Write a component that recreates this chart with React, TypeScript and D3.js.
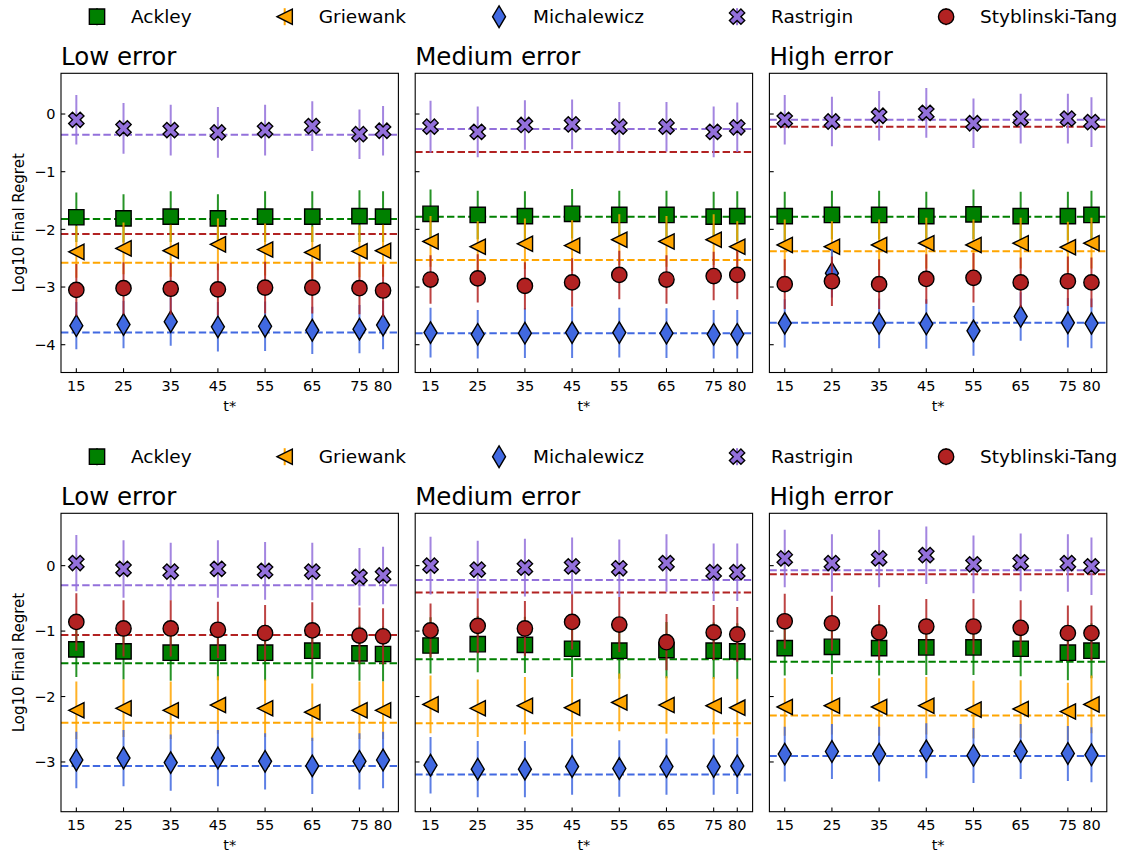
import React, { useEffect, useRef } from 'react';
import * as d3 from 'd3';

const W = 1132;
const H = 855;
const FONT = 'DejaVu Sans, Liberation Sans, sans-serif';

const T_STAR = [15, 25, 35, 45, 55, 65, 75, 80];
const FUNCS = ['Ackley', 'Griewank', 'Michalewicz', 'Rastrigin', 'Styblinski-Tang'];
const COLORS = ['#008000', '#FFA500', '#4169E1', '#9370DB', '#B22222'];
const MARKERS = ['square', 'triLeft', 'thinDiamond', 'xFilled', 'circle'];
const TITLES = ['Low error', 'Medium error', 'High error'];
const TOP_Y_TICKS = [0, -1, -2, -3, -4];
const BOTTOM_Y_TICKS = [0, -1, -2, -3];
const TOP_Y_DOMAIN = [-4.482, 0.706];
const BOTTOM_Y_DOMAIN = [-3.76, 0.8];

// ---- Top row: means per function (Ackley, Griewank, Michalewicz, Rastrigin, Styblinski-Tang)
const topLowMean = [
  [-1.79, -1.81, -1.78, -1.81, -1.78, -1.78, -1.77, -1.78],
  [-2.39, -2.33, -2.37, -2.26, -2.35, -2.40, -2.38, -2.37],
  [-3.67, -3.65, -3.60, -3.69, -3.68, -3.75, -3.73, -3.66],
  [-0.10, -0.25, -0.28, -0.32, -0.28, -0.21, -0.35, -0.29],
  [-3.05, -3.02, -3.03, -3.04, -3.01, -3.01, -3.02, -3.06],
];
const topLowErr = [
  [0.43, 0.42, 0.44, 0.42, 0.44, 0.44, 0.45, 0.44],
  [0.45, 0.45, 0.45, 0.45, 0.45, 0.45, 0.45, 0.45],
  [0.41, 0.41, 0.42, 0.43, 0.43, 0.41, 0.42, 0.42],
  [0.43, 0.44, 0.44, 0.44, 0.44, 0.43, 0.43, 0.43],
  [0.45, 0.45, 0.45, 0.45, 0.45, 0.45, 0.45, 0.45],
];
const topLowBase = [-1.82, -2.58, -3.79, -0.36, -2.08];

const topMedMean = [
  [-1.73, -1.75, -1.77, -1.73, -1.75, -1.75, -1.78, -1.77],
  [-2.21, -2.30, -2.25, -2.28, -2.18, -2.21, -2.18, -2.30],
  [-3.79, -3.82, -3.80, -3.79, -3.79, -3.80, -3.82, -3.82],
  [-0.22, -0.31, -0.19, -0.18, -0.22, -0.22, -0.31, -0.23],
  [-2.87, -2.85, -2.98, -2.92, -2.79, -2.87, -2.81, -2.79],
];
const topMedErr = [
  [0.42, 0.42, 0.43, 0.43, 0.42, 0.42, 0.43, 0.43],
  [0.44, 0.44, 0.44, 0.44, 0.44, 0.44, 0.44, 0.44],
  [0.43, 0.42, 0.43, 0.44, 0.43, 0.43, 0.42, 0.42],
  [0.45, 0.44, 0.43, 0.43, 0.43, 0.43, 0.44, 0.43],
  [0.42, 0.42, 0.41, 0.42, 0.42, 0.42, 0.42, 0.42],
];
const topMedBase = [-1.78, -2.53, -3.80, -0.26, -0.66];

const topHighMean = [
  [-1.77, -1.75, -1.75, -1.77, -1.74, -1.77, -1.77, -1.75],
  [-2.27, -2.30, -2.27, -2.24, -2.27, -2.24, -2.31, -2.24],
  [-3.63, -2.76, -3.63, -3.64, -3.76, -3.51, -3.62, -3.63],
  [-0.10, -0.13, -0.03, 0.02, -0.16, -0.08, -0.08, -0.14],
  [-2.95, -2.90, -2.95, -2.86, -2.84, -2.92, -2.90, -2.92],
];
const topHighErr = [
  [0.42, 0.42, 0.42, 0.42, 0.43, 0.42, 0.42, 0.42],
  [0.44, 0.44, 0.44, 0.44, 0.44, 0.44, 0.44, 0.44],
  [0.42, 0.42, 0.43, 0.43, 0.43, 0.42, 0.43, 0.43],
  [0.43, 0.43, 0.43, 0.43, 0.43, 0.43, 0.43, 0.43],
  [0.43, 0.43, 0.43, 0.43, 0.43, 0.43, 0.43, 0.43],
];
const topHighBase = [-1.78, -2.38, -3.62, -0.10, -0.22];

// ---- Bottom row
const botLowMean = [
  [-1.28, -1.31, -1.33, -1.33, -1.33, -1.30, -1.34, -1.35],
  [-2.21, -2.18, -2.21, -2.13, -2.18, -2.24, -2.21, -2.21],
  [-2.97, -2.94, -3.01, -2.94, -2.99, -3.06, -2.99, -2.97],
  [0.04, -0.05, -0.09, -0.05, -0.08, -0.09, -0.17, -0.15],
  [-0.86, -0.96, -0.96, -0.98, -1.03, -0.99, -1.07, -1.08],
];
const botLowErr = [
  [0.42, 0.43, 0.43, 0.42, 0.43, 0.43, 0.42, 0.42],
  [0.44, 0.44, 0.44, 0.44, 0.44, 0.44, 0.44, 0.44],
  [0.43, 0.43, 0.43, 0.43, 0.43, 0.43, 0.43, 0.43],
  [0.43, 0.44, 0.44, 0.44, 0.44, 0.44, 0.44, 0.44],
  [0.44, 0.43, 0.43, 0.43, 0.43, 0.43, 0.43, 0.43],
];
const botLowBase = [-1.49, -2.40, -3.06, -0.30, -1.06];

const botMedMean = [
  [-1.22, -1.20, -1.21, -1.27, -1.30, -1.29, -1.30, -1.31],
  [-2.12, -2.18, -2.14, -2.17, -2.09, -2.13, -2.14, -2.17],
  [-3.05, -3.11, -3.11, -3.07, -3.10, -3.07, -3.07, -3.06],
  [0.00, -0.06, -0.03, -0.01, -0.04, 0.04, -0.10, -0.10],
  [-0.99, -0.92, -0.96, -0.86, -0.90, -1.17, -1.02, -1.05],
];
const botMedErr = [
  [0.43, 0.43, 0.43, 0.43, 0.43, 0.43, 0.43, 0.43],
  [0.44, 0.44, 0.44, 0.44, 0.44, 0.44, 0.44, 0.44],
  [0.43, 0.43, 0.43, 0.43, 0.43, 0.43, 0.43, 0.43],
  [0.44, 0.44, 0.44, 0.44, 0.44, 0.44, 0.44, 0.44],
  [0.41, 0.42, 0.42, 0.42, 0.42, 0.43, 0.42, 0.42],
];
const botMedBase = [-1.43, -2.41, -3.19, -0.22, -0.41];

const botHighMean = [
  [-1.26, -1.24, -1.26, -1.25, -1.25, -1.27, -1.33, -1.30],
  [-2.16, -2.14, -2.16, -2.14, -2.20, -2.19, -2.23, -2.12],
  [-2.88, -2.84, -2.88, -2.83, -2.90, -2.84, -2.87, -2.89],
  [0.11, 0.04, 0.11, 0.16, 0.02, 0.05, 0.04, -0.01],
  [-0.85, -0.88, -1.02, -0.93, -0.93, -0.95, -1.03, -1.03],
];
const botHighErr = [
  [0.42, 0.42, 0.42, 0.42, 0.42, 0.42, 0.42, 0.42],
  [0.44, 0.44, 0.44, 0.44, 0.44, 0.44, 0.44, 0.44],
  [0.42, 0.42, 0.42, 0.42, 0.42, 0.42, 0.42, 0.42],
  [0.44, 0.44, 0.44, 0.44, 0.44, 0.44, 0.44, 0.44],
  [0.42, 0.42, 0.42, 0.42, 0.42, 0.42, 0.42, 0.42],
];
const botHighBase = [-1.47, -2.29, -2.91, -0.07, -0.13];

const ROWS = [
  {
    top: 73.3, bottom: 372.5, legendY: 16.7, titleY: 65,
    domain: TOP_Y_DOMAIN, ticks: TOP_Y_TICKS,
    panels: [
      { mean: topLowMean, err: topLowErr, base: topLowBase },
      { mean: topMedMean, err: topMedErr, base: topMedBase },
      { mean: topHighMean, err: topHighErr, base: topHighBase },
    ],
  },
  {
    top: 513.3, bottom: 811.7, legendY: 456.7, titleY: 504.8,
    domain: BOTTOM_Y_DOMAIN, ticks: BOTTOM_Y_TICKS,
    panels: [
      { mean: botLowMean, err: botLowErr, base: botLowBase },
      { mean: botMedMean, err: botMedErr, base: botMedBase },
      { mean: botHighMean, err: botHighErr, base: botHighBase },
    ],
  },
];

const PANEL_LEFTS = [61, 415.2, 769.4];
const PANEL_W = 337.4;
const MS = 15.3;

function markerPath(kind: string): string {
  const h = MS / 2;
  if (kind === 'square') return `M${-h},${-h}H${h}V${h}H${-h}Z`;
  if (kind === 'triLeft') return `M${-h},0L${h},${-h}L${h},${h}Z`;
  if (kind === 'thinDiamond') {
    const dy = MS * Math.SQRT1_2;
    const dx = dy * 0.6;
    return `M0,${-dy}L${dx},0L0,${dy}L${-dx},0Z`;
  }
  if (kind === 'xFilled') {
    const pts = [[-1, -2], [0, -1], [1, -2], [2, -1], [1, 0], [2, 1], [1, 2], [0, 1], [-1, 2], [-2, 1], [-1, 0], [-2, -1]];
    return 'M' + pts.map((p) => `${(p[0] * MS) / 4},${(p[1] * MS) / 4}`).join('L') + 'Z';
  }
  // circle
  return `M${h},0A${h},${h} 0 1,1 ${-h},0A${h},${h} 0 1,1 ${h},0Z`;
}

export default function App() {
  const ref = useRef<SVGSVGElement | null>(null);

  useEffect(() => {
    document.body.style.margin = '0';
    const svg = d3.select(ref.current);
    svg.selectAll('*').remove();
    svg.append('rect').attr('width', W).attr('height', H).attr('fill', '#fff');

    const fmt = d3.format('d');

    ROWS.forEach((row, ri) => {
      const y = d3.scaleLinear().domain(row.domain).range([row.bottom, row.top]);

      // Legend
      const lg = svg.append('g');
      let mx = 97;
      FUNCS.forEach((name, si) => {
        lg.append('line')
          .attr('x1', mx).attr('x2', mx)
          .attr('y1', row.legendY - 8.5).attr('y2', row.legendY + 8.5)
          .attr('stroke', COLORS[si]).attr('stroke-width', 2);
        lg.append('path')
          .attr('d', markerPath(MARKERS[si]))
          .attr('transform', `translate(${mx},${row.legendY})`)
          .attr('fill', COLORS[si]).attr('stroke', '#000').attr('stroke-width', 1.4)
          .attr('stroke-linejoin', 'miter');
        const t = lg.append('text')
          .attr('x', mx + 34).attr('y', row.legendY).attr('dy', '0.36em')
          .attr('font-family', FONT).attr('font-size', 18.5).attr('fill', '#000')
          .text(name);
        const tw = (t.node() as SVGTextElement).getComputedTextLength();
        mx = mx + 34 + tw + 93;
      });

      row.panels.forEach((pd, pi) => {
        const left = PANEL_LEFTS[pi];
        const x = d3.scaleLinear().domain([11.75, 83.25]).range([left, left + PANEL_W]);
        const g = svg.append('g');
        const clipId = `clip-${ri}-${pi}`;
        g.append('clipPath').attr('id', clipId)
          .append('rect').attr('x', left).attr('y', row.top)
          .attr('width', PANEL_W).attr('height', row.bottom - row.top);

        // Title
        g.append('text')
          .attr('x', left).attr('y', row.titleY)
          .attr('font-family', FONT).attr('font-size', 24.5).attr('fill', '#000')
          .text(TITLES[pi]);

        const plot = g.append('g').attr('clip-path', `url(#${clipId})`);

        // Baselines (dashed)
        pd.base.forEach((b, si) => {
          plot.append('line')
            .attr('x1', left).attr('x2', left + PANEL_W)
            .attr('y1', y(b)).attr('y2', y(b))
            .attr('stroke', COLORS[si]).attr('stroke-width', 2)
            .attr('stroke-dasharray', '7.4 3.2');
        });

        // Error bars + markers, series by series
        pd.mean.forEach((vals, si) => {
          const sg = plot.append('g');
          sg.selectAll('line.err')
            .data(vals)
            .enter()
            .append('line')
            .attr('class', 'err')
            .attr('x1', (_d, i) => x(T_STAR[i])).attr('x2', (_d, i) => x(T_STAR[i]))
            .attr('y1', (d, i) => y(d + pd.err[si][i]))
            .attr('y2', (d, i) => y(d - pd.err[si][i]))
            .attr('stroke', COLORS[si]).attr('stroke-width', 2).attr('stroke-opacity', 0.85);
          sg.selectAll('path.mk')
            .data(vals)
            .enter()
            .append('path')
            .attr('class', 'mk')
            .attr('d', markerPath(MARKERS[si]))
            .attr('transform', (d, i) => `translate(${x(T_STAR[i])},${y(d)})`)
            .attr('fill', COLORS[si]).attr('stroke', '#000').attr('stroke-width', 1.4);
        });

        // Frame
        g.append('rect')
          .attr('x', left).attr('y', row.top)
          .attr('width', PANEL_W).attr('height', row.bottom - row.top)
          .attr('fill', 'none').attr('stroke', '#000').attr('stroke-width', 1.1);

        // X ticks (inward)
        T_STAR.forEach((t) => {
          g.append('line')
            .attr('x1', x(t)).attr('x2', x(t))
            .attr('y1', row.bottom).attr('y2', row.bottom - 4.3)
            .attr('stroke', '#000').attr('stroke-width', 1.1);
          g.append('text')
            .attr('x', x(t)).attr('y', row.bottom + 18.2)
            .attr('text-anchor', 'middle')
            .attr('font-family', FONT).attr('font-size', 14.5).attr('fill', '#000')
            .text(fmt(t));
        });

        // Y ticks (inward)
        row.ticks.forEach((v) => {
          g.append('line')
            .attr('x1', left).attr('x2', left + 4.3)
            .attr('y1', y(v)).attr('y2', y(v))
            .attr('stroke', '#000').attr('stroke-width', 1.1);
          if (pi === 0) {
            g.append('text')
              .attr('x', left - 5.5).attr('y', y(v)).attr('dy', '0.36em')
              .attr('text-anchor', 'end')
              .attr('font-family', FONT).attr('font-size', 14.5).attr('fill', '#000')
              .text(fmt(v));
          }
        });

        // X label
        g.append('text')
          .attr('x', left + PANEL_W / 2).attr('y', row.bottom + 38.2)
          .attr('text-anchor', 'middle')
          .attr('font-family', FONT).attr('font-size', 14.5).attr('fill', '#000')
          .text('t*');

        // Y label
        if (pi === 0) {
          const cy = (row.top + row.bottom) / 2;
          g.append('text')
            .attr('transform', `translate(24,${cy}) rotate(-90)`)
            .attr('text-anchor', 'middle')
            .attr('font-family', FONT).attr('font-size', 15).attr('fill', '#000')
            .text('Log10 Final Regret');
        }
      });
    });
  }, []);

  return (
    <svg
      ref={ref}
      width={W}
      height={H}
      viewBox={`0 0 ${W} ${H}`}
      style={{ position: 'absolute', left: 0, top: 0, display: 'block' }}
    />
  );
}
